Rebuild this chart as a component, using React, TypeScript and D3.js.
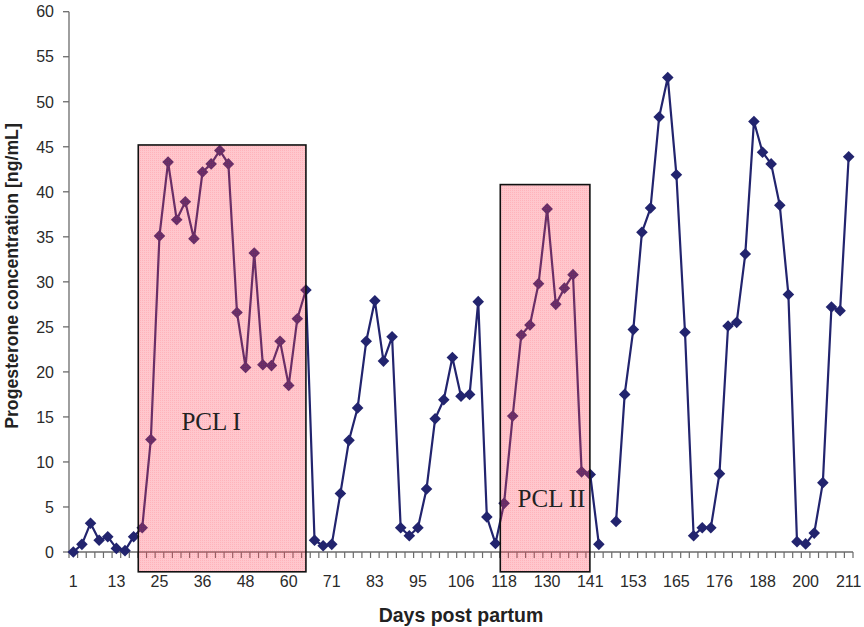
import React from "react";
import * as d3 from "d3";

const tickLabels = ["1", "13", "25", "36", "48", "60", "71", "83", "95", "106", "118", "130", "141", "153", "165", "176", "188", "200", "211"];
const yTicks = [0, 5, 10, 15, 20, 25, 30, 35, 40, 45, 50, 55, 60];

// progesterone (ng/mL) per sampling, one missing sample (null)
const progesterone: (number | null)[] = [
  0.0, 0.85, 3.2, 1.3, 1.7, 0.4, 0.15, 1.7, 2.7, 12.5,
  35.1, 43.3, 36.9, 38.9, 34.8, 42.2, 43.1, 44.6, 43.1, 26.6,
  20.5, 33.2, 20.8, 20.7, 23.4, 18.5, 25.9, 29.1, 1.3, 0.7,
  0.85, 6.5, 12.4, 16.0, 23.4, 27.9, 21.2, 23.9, 2.7, 1.8,
  2.7, 7.0, 14.8, 16.9, 21.6, 17.3, 17.5, 27.8, 3.9, 0.95,
  5.4, 15.1, 24.1, 25.2, 29.8, 38.1, 27.5, 29.3, 30.8, 8.9,
  8.6, 0.85, null, 3.4, 17.5, 24.7, 35.5, 38.2, 48.3, 52.7,
  41.9, 24.4, 1.8, 2.7, 2.7, 8.7, 25.1, 25.5, 33.1, 47.8,
  44.4, 43.1, 38.5, 28.6, 1.15, 0.9, 2.1, 7.7, 27.2, 26.8, 43.9,
];

// PCL annotation boxes (category index span, top value)
const pclNames = ["PCL I", "PCL II"];
const pclStart = [7.54, 49.56];
const pclEnd = [27.0, 59.96];
const pclTop = [45.2, 40.8];
const pclLabelX = [16.0, 55.5];
const pclLabelY = [13.5, 5.0];

const W = 864;
const H = 627;

export default function App() {
  const n = progesterone.length;
  const idx = d3.range(n);
  const left = 69;
  const right = 853;
  const top = 11.7;
  const bottom = 552;

  const xBand = d3.scaleBand<number>().domain(idx).range([left, right]).paddingInner(0).paddingOuter(0);
  const bw = xBand.bandwidth();
  const xc = (i: number) => (xBand(Math.floor(i)) ?? 0) + bw / 2 + (i - Math.floor(i)) * bw;
  const xLin = d3.scaleLinear().domain([-0.5, n - 0.5]).range([left, right]);
  const y = d3.scaleLinear().domain([0, 60]).range([bottom, top]);

  const line = d3
    .line<number | null>()
    .defined((d) => d != null)
    .x((_, i) => xc(i))
    .y((d) => y(d as number));

  const navy = "#22246e";
  const diamond = "M0,-5.8L5.8,0L0,5.8L-5.8,0Z";
  const rectBottom = y(-2.2);

  return (
    <svg width={W} height={H} style={{ position: "absolute", left: 0, top: 0, background: "#fff" }}>
      <defs>
        <pattern id="dots" width="2" height="2" patternUnits="userSpaceOnUse">
          <rect width="2" height="2" fill="rgb(255,70,90)" fillOpacity="0.3" />
          <rect width="1" height="1" fill="rgb(255,40,60)" fillOpacity="0.12" />
        </pattern>
      </defs>

      {/* y axis */}
      <line x1={left} x2={left} y1={top} y2={bottom} stroke="#6b6b6b" strokeWidth={1.3} />
      {yTicks.map((t) => (
        <g key={t}>
          <line x1={left - 6} x2={left} y1={y(t)} y2={y(t)} stroke="#6b6b6b" strokeWidth={1.3} />
          <text
            x={54}
            y={y(t)}
            dy="0.36em"
            textAnchor="end"
            fontFamily="Liberation Sans, Arial, sans-serif"
            fontSize={16}
            fill="#2a2a2a"
          >
            {t}
          </text>
        </g>
      ))}

      {/* x axis */}
      <line x1={left} x2={right} y1={bottom} y2={bottom} stroke="#6b6b6b" strokeWidth={1.3} />
      {d3.range(n + 1).map((k) => (
        <line key={k} x1={xLin(k - 0.5)} x2={xLin(k - 0.5)} y1={bottom} y2={bottom + 6} stroke="#6b6b6b" strokeWidth={1.2} />
      ))}
      {tickLabels.map((lab, j) => (
        <text
          key={lab}
          x={xc(j * 5)}
          y={586.5}
          textAnchor="middle"
          fontFamily="Liberation Sans, Arial, sans-serif"
          fontSize={16}
          fill="#2a2a2a"
        >
          {lab}
        </text>
      ))}

      {/* series */}
      <path d={line(progesterone) ?? ""} fill="none" stroke={navy} strokeWidth={2.2} strokeLinejoin="round" />
      {progesterone.map((v, i) =>
        v == null ? null : <path key={i} d={diamond} transform={`translate(${xc(i)},${y(v)})`} fill={navy} />
      )}

      {/* PCL boxes */}
      {pclNames.map((name, k) => {
        const x0 = xLin(pclStart[k]);
        const x1 = xLin(pclEnd[k]);
        const y0 = y(pclTop[k]);
        return (
          <g key={name}>
            <rect x={x0} y={y0} width={x1 - x0} height={rectBottom - y0} fill="url(#dots)" stroke="#111" strokeWidth={1.6} />
            <text
              x={xLin(pclLabelX[k])}
              y={y(pclLabelY[k])}
              textAnchor="middle"
              fontFamily="Liberation Serif, Times New Roman, serif"
              fontSize={25}
              fill="#222"
            >
              {name}
            </text>
          </g>
        );
      })}

      {/* axis titles */}
      <text
        x={(left + right) / 2}
        y={621.5}
        textAnchor="middle"
        fontFamily="Liberation Sans, Arial, sans-serif"
        fontWeight="bold"
        fontSize={19.5}
        fill="#222"
      >
        Days post partum
      </text>
      <text
        transform={`translate(18,276) rotate(-90)`}
        textAnchor="middle"
        fontFamily="Liberation Sans, Arial, sans-serif"
        fontWeight="bold"
        fontSize={17.7}
        fill="#222"
      >
        Progesterone concentration [ng/mL]
      </text>
    </svg>
  );
}
